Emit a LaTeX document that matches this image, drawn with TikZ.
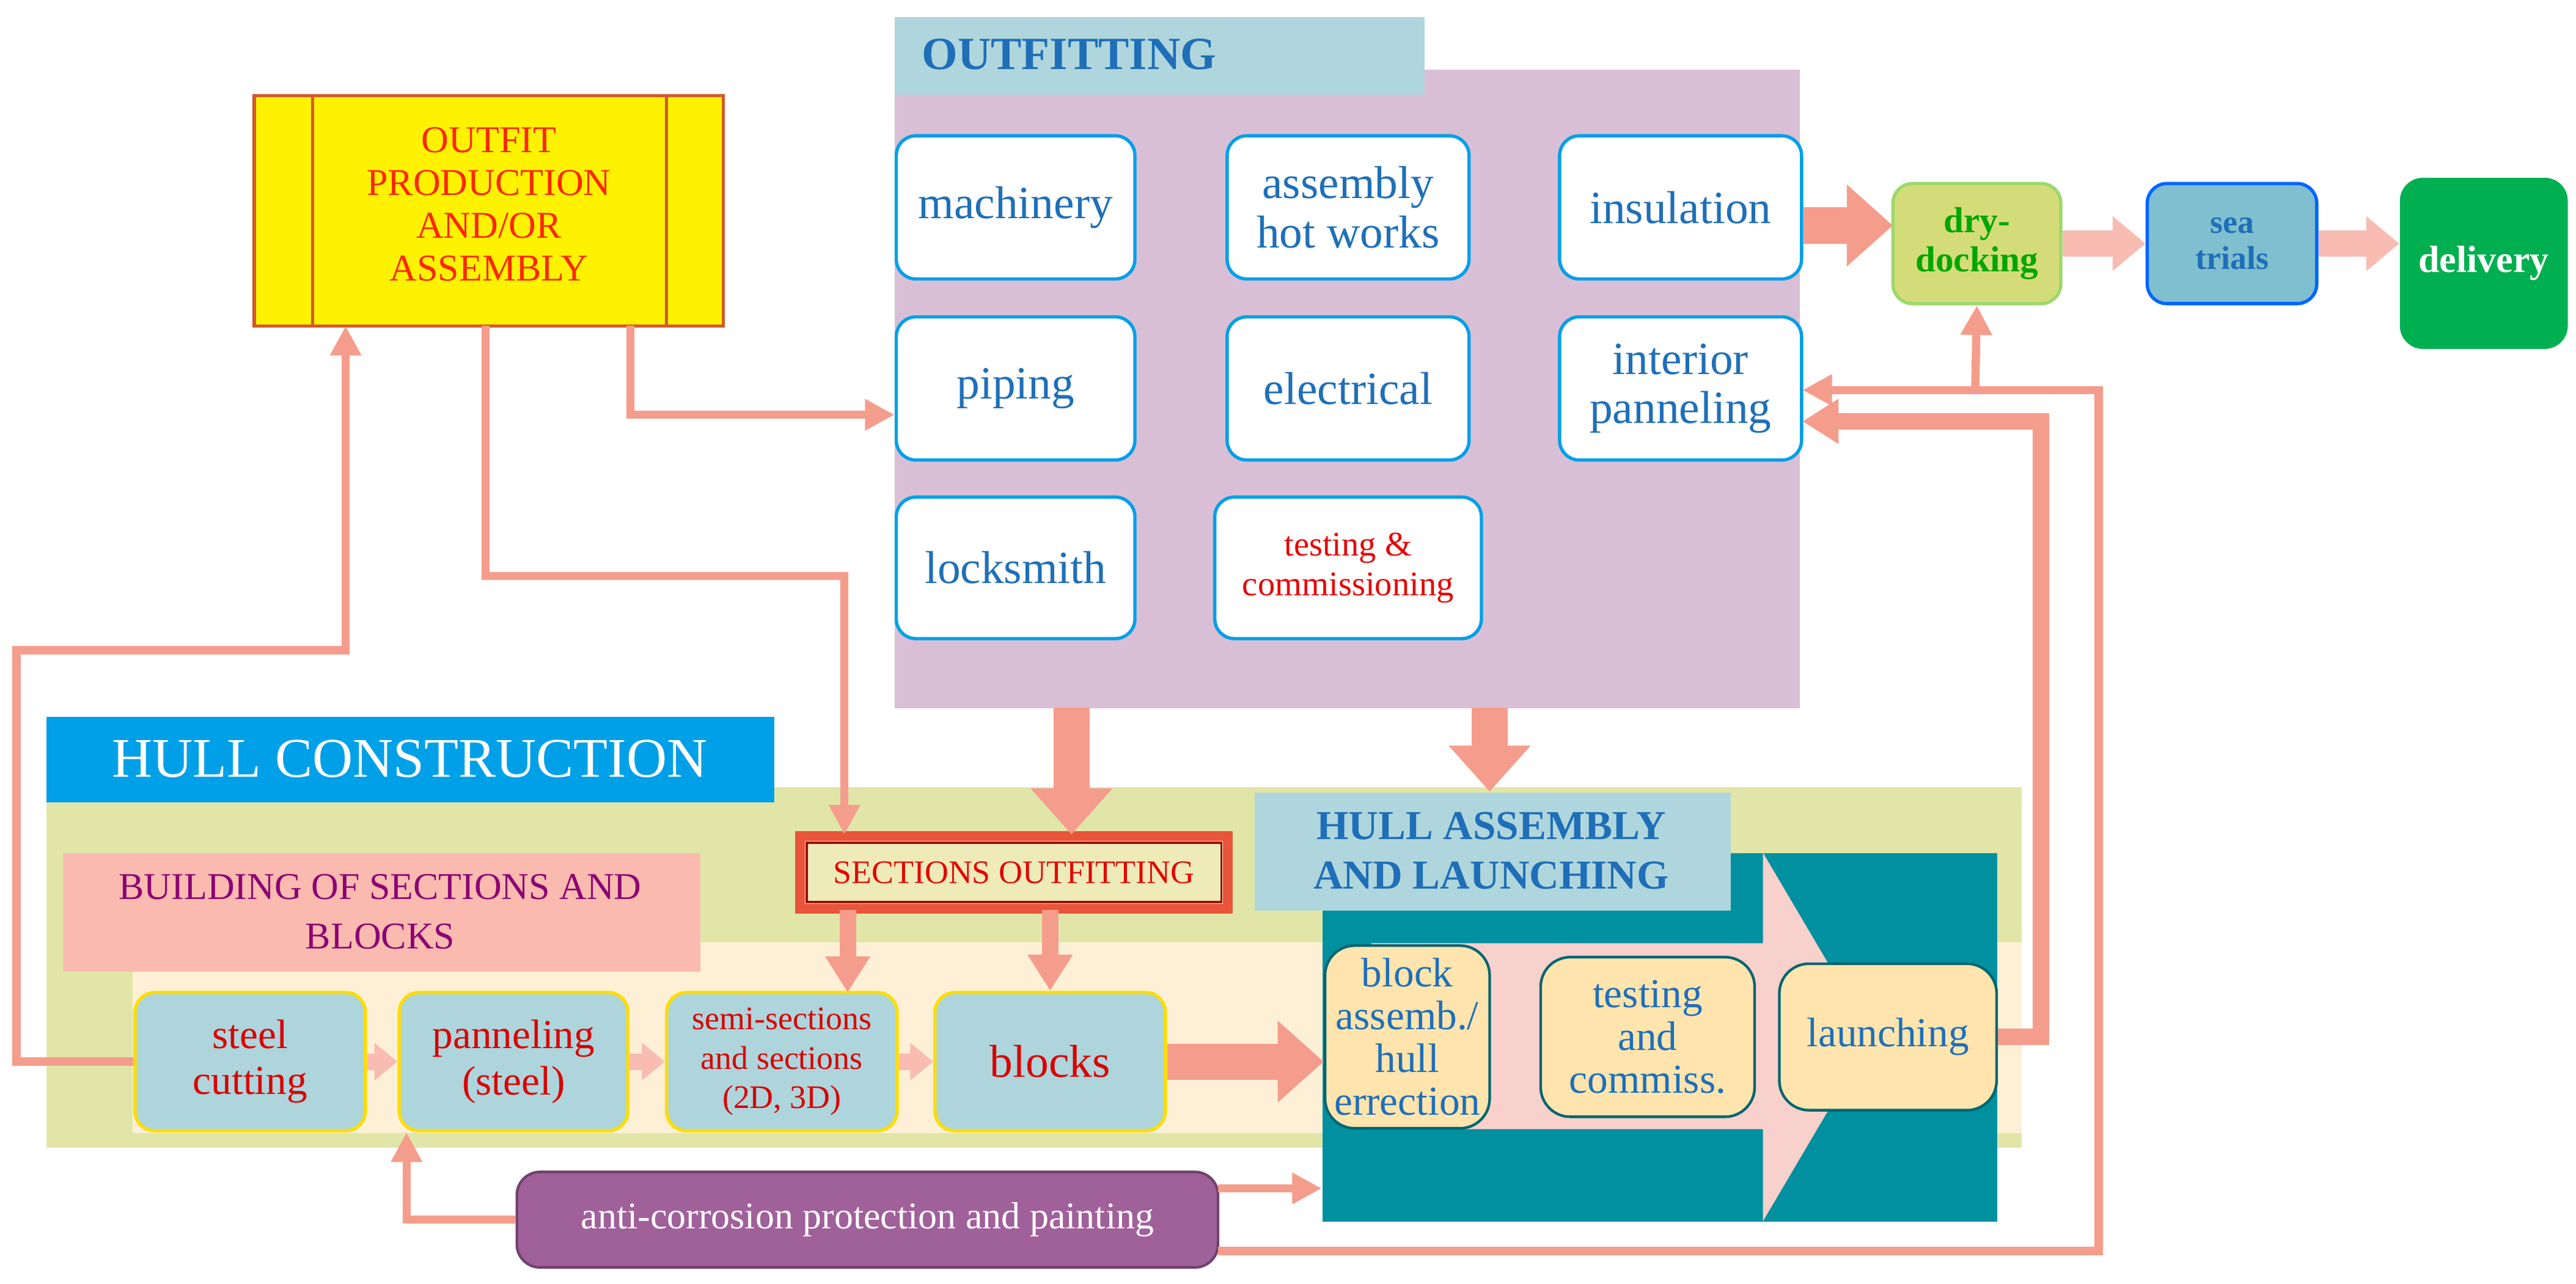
\documentclass[tikz,border=0pt]{standalone}
\usepackage{fontspec}
\setmainfont{Liberation Serif}
\usetikzlibrary{arrows.meta}
\definecolor{salmon}{HTML}{F59D8C}
\definecolor{lsalmon}{HTML}{F8BCB2}
\definecolor{obox}{HTML}{00A0E8}
\definecolor{otxt}{HTML}{1F6FB8}
\definecolor{purp}{HTML}{D9BFD6}
\definecolor{ttl}{HTML}{AFD6DC}
\definecolor{hullbg}{HTML}{E1E6A8}
\definecolor{cream}{HTML}{FEF0D6}
\definecolor{rowbox}{HTML}{ADD5DB}
\definecolor{teal}{HTML}{0090A0}
\definecolor{pinkar}{HTML}{F8D0CC}
\definecolor{bldg}{HTML}{FBBAAF}
\definecolor{anti}{HTML}{A0609A}
\definecolor{hyel}{HTML}{FFE4AE}
\definecolor{secr}{HTML}{E8553A}
\definecolor{secf}{HTML}{EEEBB8}
\definecolor{dryf}{HTML}{D4DC7A}
\definecolor{dryb}{HTML}{9CD86A}
\definecolor{seaf}{HTML}{7FBFCF}
\definecolor{delf}{HTML}{00B050}
\begin{document}
\begin{tikzpicture}[x=0.5pt,y=-0.5pt,
  ob/.style={draw=obox,line width=1pt,fill=white,rounded corners=6pt,text=otxt,align=center,font=\fontsize{14}{15}\selectfont,inner sep=0pt},
  rb/.style={draw=yellow!80!orange,line width=1pt,fill=rowbox,rounded corners=6pt,text=red!85!black,align=center,inner sep=0pt},
  hb/.style={draw=teal!70!black,line width=0.8pt,fill=hyel,rounded corners=9pt,text=otxt,align=center,font=\fontsize{12.5}{13}\selectfont,inner sep=0pt},
  thin/.style={draw=salmon,line width=2.5pt,-{Triangle[length=9pt,width=9pt]}},
  mid/.style={draw=salmon,line width=5pt,-{Triangle[length=11pt,width=13pt]}},
  big/.style={draw=salmon,line width=11pt,-{Triangle[length=14pt,width=24pt]}},
  small/.style={draw=lsalmon,line width=5pt,-{Triangle[length=7pt,width=11pt]}},
]
\useasboundingbox (0,0) rectangle (1565,780);
% outfitting
\node[fill=purp,minimum width=550*0.5pt,minimum height=388*0.5pt,anchor=north west,inner sep=0pt] (pur) at (543,42) {};
\node[fill=ttl,minimum width=322*0.5pt,minimum height=47*0.5pt,anchor=north west,inner sep=0pt] (otit) at (543,10) {};
\node[text=otxt,font=\bfseries\fontsize{14}{15}\selectfont,anchor=west] (otx) at (553,33) {OUTFITTING};
\node[ob,minimum width=145*0.5pt,minimum height=87*0.5pt] (mach) at (617,126) {machinery};
\node[ob,minimum width=147*0.5pt,minimum height=87*0.5pt] (ahw) at (819,126) {assembly\\hot works};
\node[ob,minimum width=147*0.5pt,minimum height=87*0.5pt] (ins) at (1021,126) {insulation};
\node[ob,minimum width=145*0.5pt,minimum height=87*0.5pt] (pip) at (617,236) {piping};
\node[ob,minimum width=147*0.5pt,minimum height=87*0.5pt] (ele) at (819,236) {electrical};
\node[ob,minimum width=147*0.5pt,minimum height=87*0.5pt] (int) at (1021,236) {interior\\panneling};
\node[ob,minimum width=145*0.5pt,minimum height=86*0.5pt] (lock) at (617,345) {locksmith};
\node[ob,minimum width=162*0.5pt,minimum height=86*0.5pt,text=red!90!black,font=\fontsize{10.5}{12}\selectfont] (tc) at (819,345) {testing \&\\commissioning};
% outfit production
\node[draw=brown!70!red,line width=1pt,fill=yellow,minimum width=285*0.5pt,minimum height=140*0.5pt,inner sep=0pt] (op) at (297,128) {};
\draw[brown!70!red,line width=1pt] (190,58) -- (190,198) (405,58) -- (405,198);
\node[text=red!70!orange,align=center,font=\fontsize{11.5}{13}\selectfont] (opt) at (297,124) {OUTFIT\\PRODUCTION\\AND/OR\\ASSEMBLY};
% right boxes
\node[draw=dryb,line width=1pt,fill=dryf,rounded corners=6pt,minimum width=102*0.5pt,minimum height=73*0.5pt,text=green!65!black,font=\bfseries\fontsize{11}{12}\selectfont,align=center,inner sep=0pt] (dry) at (1201,148) {dry-\\docking};
\node[draw=blue!60!cyan,line width=1pt,fill=seaf,rounded corners=6pt,minimum width=103*0.5pt,minimum height=73*0.5pt,text=otxt,font=\bfseries\fontsize{10}{11}\selectfont,align=center,inner sep=0pt] (sea) at (1356,148) {sea\\trials};
\node[fill=delf,rounded corners=7pt,minimum width=102*0.5pt,minimum height=104*0.5pt,text=white,font=\bfseries\fontsize{11.5}{12}\selectfont,inner sep=0pt] (del) at (1509,160) {delivery};
\coordinate (r1) at (1150,137);
\draw[big] (ins.east|-r1) -- (r1);
\draw[small,line width=8pt,-{Triangle[length=10pt,width=16pt]}] (dry.east) -- (sea.west);
\draw[small,line width=8pt,-{Triangle[length=10pt,width=16pt]}] (sea.east) -- (del.west|-sea.east);
% hull construction
\node[fill=hullbg,minimum width=1200*0.5pt,minimum height=219*0.5pt,anchor=north west,inner sep=0pt] (hbg) at (28,478) {};
\node[fill=cream,minimum width=1148*0.5pt,minimum height=116*0.5pt,anchor=north west,inner sep=0pt] (cbg) at (80,572) {};
\node[fill=obox,minimum width=442*0.5pt,minimum height=52*0.5pt,anchor=north west,inner sep=0pt] (hct) at (28,435) {};
\node[text=white,font=\fontsize{17}{18}\selectfont] (hctx) at (249,461) {HULL CONSTRUCTION};
\node[fill=bldg,minimum width=387*0.5pt,minimum height=72*0.5pt,anchor=north west,inner sep=0pt] (bld) at (38,518) {};
\node[text=violet!80!purple,align=center,font=\fontsize{11.5}{15}\selectfont] (bldx) at (231,554) {BUILDING OF SECTIONS AND\\BLOCKS};
\node[draw=secr,line width=3pt,fill=secf,minimum width=260*0.5pt,minimum height=44*0.5pt,text=red!90!black,font=\fontsize{10}{11}\selectfont,inner sep=0pt] (sec) at (616,530) {SECTIONS OUTFITTING};
\draw[red!60!black,line width=0.7pt] (490,512) rectangle (742,548);
% row boxes
\node[rb,minimum width=140*0.5pt,minimum height=84*0.5pt,font=\fontsize{12.5}{14}\selectfont] (sc) at (152,645) {steel\\cutting};
\node[rb,minimum width=139*0.5pt,minimum height=84*0.5pt,font=\fontsize{12.5}{14}\selectfont] (pan) at (312,645) {panneling\\(steel)};
\node[rb,minimum width=140*0.5pt,minimum height=84*0.5pt,font=\fontsize{10}{12}\selectfont] (semi) at (475,645) {semi-sections\\and sections\\(2D, 3D)};
\node[rb,minimum width=140*0.5pt,minimum height=84*0.5pt,font=\fontsize{14}{15}\selectfont] (blk) at (638,645) {blocks};
\draw[small] (sc.east) -- (pan.west);
\draw[small] (pan.east) -- (semi.west);
\draw[small] (semi.east) -- (blk.west);
% hull assembly
\node[fill=teal,minimum width=410*0.5pt,minimum height=224*0.5pt,anchor=north west,inner sep=0pt] (tealb) at (803,518) {};
\fill[pinkar] (833,573) -- (1071,573) -- (1071,518) -- (1137,630) -- (1071,742) -- (1071,686) -- (833,686) -- cycle;
\node[fill=ttl,minimum width=289*0.5pt,minimum height=72*0.5pt,anchor=north west,inner sep=0pt] (hat) at (762,481) {};
\node[text=otxt,align=center,font=\bfseries\fontsize{12.5}{15}\selectfont] (hatx) at (906,517) {HULL ASSEMBLY\\AND LAUNCHING};
\node[hb,minimum width=100*0.5pt,minimum height=111*0.5pt] (ba) at (855,630) {block\\assemb./\\hull\\errection};
\node[hb,minimum width=130*0.5pt,minimum height=97*0.5pt] (tst) at (1001,630) {testing\\and\\commiss.};
\node[hb,minimum width=132*0.5pt,minimum height=89*0.5pt] (lau) at (1147,630) {launching};
\draw[big] (blk.east) -- (ba.west|-blk.east);
% anti-corrosion
\node[draw=anti!70!black,line width=0.8pt,fill=anti,rounded corners=7pt,minimum width=426*0.5pt,minimum height=58*0.5pt,text=white,font=\fontsize{11.5}{12}\selectfont,inner sep=0pt] (ac) at (527,741) {anti-corrosion protection and painting};
% connectors
\coordinate (a1) at (383,252);
\draw[thin] (383,198) -- (a1) -- (pip.west|-a1);
\draw[thin] (295,198) -- (295,350) -- (513,350) -- (513,507);
\draw[thin] (sc.west) -- (10,645) -- (10,395) -- (210,395) -- (210,198);
\draw[big] (651,430) -- (651,507);
\draw[big] (905,430) -- (905,481);
\draw[mid] (515,553) -- (515,603);
\draw[mid] (638,553) -- (blk.north);
\coordinate (l1) at (1240,630);
\draw[mid] (lau.east) -- (l1) -- (1240,256) -- (1095,256);
\draw[thin] (ac.west) -- (247,741) -- (247,688);
\draw[thin] (740,722) -- (803,722);
\draw[thin] (740,760) -- (1275,760) -- (1275,237) -- (1095,237);
\draw[thin] (1200,237) -- (dry.south);
\end{tikzpicture}
\end{document}
